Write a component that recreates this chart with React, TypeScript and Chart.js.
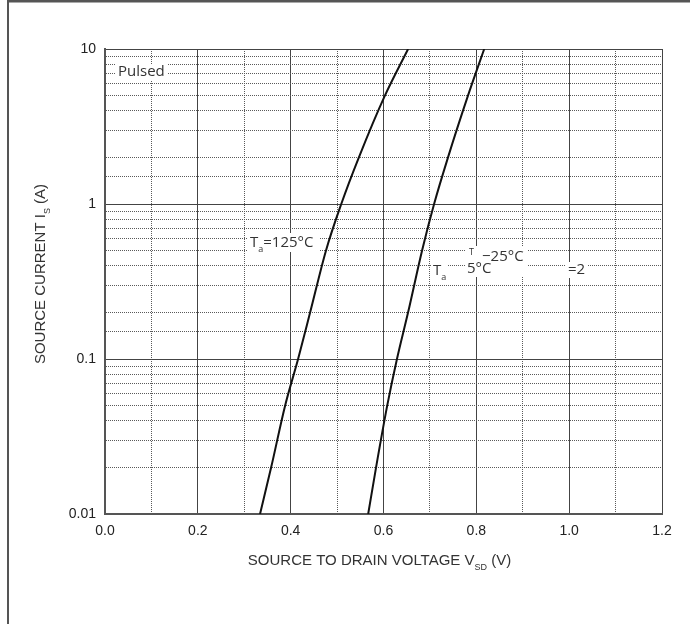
import React, { useEffect, useRef } from 'react';
import { Chart, registerables } from 'chart.js';

Chart.register(...registerables);

// Source current (A) at which the voltages were read
const currentA = [0.01, 0.02, 0.05, 0.1, 0.2, 0.5, 1, 2, 5, 10];
// Source-to-drain voltage (V) for Ta = 125 °C
const vsd125 = [0.334, 0.358, 0.388, 0.416, 0.442, 0.476, 0.509, 0.547, 0.603, 0.653];
// Source-to-drain voltage (V) for Ta = -25 °C
const vsdM25 = [0.567, 0.584, 0.608, 0.629, 0.653, 0.683, 0.709, 0.739, 0.782, 0.817];

const xTickLabels = ['0.0', '0.2', '0.4', '0.6', '0.8', '1.0', '1.2'];
const yTickLabels = ['0.01', '0.1', '1', '10'];

const TICK_FONT = '"Liberation Sans", Arial, sans-serif';
const NOTE_FONT = '"Open Sans", "Noto Sans", sans-serif';

const isDecade = (v: number) => {
  const e = Math.round(Math.log10(v));
  return Math.abs(v / Math.pow(10, e) - 1) < 1e-6;
};
const isEvenTenth = (v: number) => Math.round(v * 10) % 2 === 0;

type Part = { t: string; sub?: boolean; sup?: boolean };

function drawParts(ctx: CanvasRenderingContext2D, parts: Part[], x: number, y: number, size: number, family: string, align: 'left' | 'center') {
  const subSize = Math.round(size * 0.62);
  const widths = parts.map((p) => {
    ctx.font = `${p.sub || p.sup ? subSize : size}px ${family}`;
    return ctx.measureText(p.t).width;
  });
  const total = widths.reduce((a, b) => a + b, 0);
  let cx = align === 'center' ? x - total / 2 : x;
  ctx.textAlign = 'left';
  ctx.textBaseline = 'middle';
  parts.forEach((p, i) => {
    ctx.font = `${p.sub || p.sup ? subSize : size}px ${family}`;
    const dy = p.sub ? size * 0.42 : p.sup ? -size * 0.3 : 0;
    ctx.fillText(p.t, cx, y + dy);
    cx += widths[i];
  });
}

const decorations = {
  id: 'decorations',
  afterDatasetsDraw(chart: any) {
    const ctx: CanvasRenderingContext2D = chart.ctx;
    ctx.save();
    // white label backgrounds
    ctx.fillStyle = '#ffffff';
    ctx.fillRect(115, 64, 53, 17);
    ctx.fillRect(247, 233, 72, 19);
    ctx.fillRect(431, 263, 16, 21);
    ctx.fillRect(465, 246, 62, 31);
    ctx.fillRect(566, 262, 22, 16);

    ctx.fillStyle = '#333333';
    drawParts(ctx, [{ t: 'Pulsed' }], 118, 72, 15, NOTE_FONT, 'left');
    drawParts(ctx, [{ t: 'T' }, { t: 'a', sub: true }, { t: '=125°C' }], 250, 243, 15, NOTE_FONT, 'left');
    drawParts(ctx, [{ t: 'T' }, { t: 'a', sub: true }], 433, 271, 15, NOTE_FONT, 'left');
    drawParts(ctx, [{ t: 'T', sup: true }], 469, 257, 15, NOTE_FONT, 'left');
    drawParts(ctx, [{ t: '−25°C' }], 482, 257, 15, NOTE_FONT, 'left');
    drawParts(ctx, [{ t: '5°C' }], 467, 269, 15, NOTE_FONT, 'left');
    drawParts(ctx, [{ t: '=2' }], 568, 270, 15, NOTE_FONT, 'left');

    // axis titles
    const area = chart.chartArea;
    ctx.fillStyle = '#333333';
    drawParts(ctx, [{ t: 'SOURCE TO DRAIN VOLTAGE V' }, { t: 'SD', sub: true }, { t: ' (V)' }], (area.left + area.right) / 2 - 4, 561, 15, TICK_FONT, 'center');
    ctx.save();
    ctx.translate(41, 274);
    ctx.rotate(-Math.PI / 2);
    drawParts(ctx, [{ t: 'SOURCE CURRENT I' }, { t: 'S', sub: true }, { t: ' (A)' }], 0, 0, 15, TICK_FONT, 'center');
    ctx.restore();

    // page frame
    ctx.fillStyle = '#555555';
    ctx.fillRect(7, 0, 683, 2.5);
    ctx.fillRect(7, 0, 2, 624);
    ctx.restore();
  },
};

export default function App() {
  const ref = useRef<HTMLCanvasElement | null>(null);
  useEffect(() => {
    if (!ref.current) return;
    const chart = new Chart(ref.current, {
      type: 'line',
      data: {
        datasets: [
          {
            label: 'Ta=125°C',
            data: vsd125.map((v, i) => ({ x: v, y: currentA[i] })),
            borderColor: '#111111',
            borderWidth: 2,
            pointRadius: 0,
            cubicInterpolationMode: 'monotone',
            fill: false,
          },
          {
            label: 'Ta=-25°C',
            data: vsdM25.map((v, i) => ({ x: v, y: currentA[i] })),
            borderColor: '#111111',
            borderWidth: 2,
            pointRadius: 0,
            cubicInterpolationMode: 'monotone',
            fill: false,
          },
        ],
      },
      options: {
        animation: false,
        responsive: false,
        devicePixelRatio: 1,
        layout: { padding: { top: 49, right: 28, left: 0, bottom: 0 } },
        plugins: { legend: { display: false }, tooltip: { enabled: false }, title: { display: false } },
        scales: {
          x: {
            type: 'linear',
            min: 0,
            max: 1.2,
            afterFit: (s: any) => {
              s.height = 110;
            },
            ticks: {
              stepSize: 0.1,
              autoSkip: false,
              maxRotation: 0,
              padding: 9,
              color: '#222222',
              font: { family: TICK_FONT, size: 14 },
              callback: (v: any) => (isEvenTenth(Number(v)) ? xTickLabels[Math.round(Number(v) * 5)] : ''),
            },
            grid: {
              drawTicks: false,
              lineWidth: 1,
              color: (c: any) => (c.tick && isEvenTenth(c.tick.value) ? '#444444' : '#5a5a5a'),
            },
            border: {
              display: true,
              color: '#555555',
              width: 2,
              dash: (c: any) => (c.tick && !isEvenTenth(c.tick.value) ? [1, 1] : []),
            },
          },
          y: {
            type: 'logarithmic',
            min: 0.01,
            max: 10,
            afterFit: (s: any) => {
              s.width = 105;
            },
            ticks: {
              autoSkip: false,
              padding: 9,
              color: '#222222',
              font: { family: TICK_FONT, size: 14 },
              callback: (v: any) => {
                const n = Number(v);
                if (!isDecade(n)) return '';
                return yTickLabels[Math.round(Math.log10(n)) + 2];
              },
            },
            grid: {
              drawTicks: false,
              lineWidth: 1,
              color: (c: any) => (c.tick && isDecade(c.tick.value) ? '#444444' : '#5a5a5a'),
            },
            border: {
              display: true,
              color: '#555555',
              width: 2,
              dash: (c: any) => (c.tick && !isDecade(c.tick.value) ? [1, 1] : []),
            },
          },
        },
      },
      plugins: [decorations],
    } as any);
    return () => chart.destroy();
  }, []);
  return (
    <div style={{ position: 'fixed', left: 0, top: 0, width: 690, height: 624, background: '#ffffff' }}>
      <canvas ref={ref} width={690} height={624} style={{ width: 690, height: 624, display: 'block' }} />
    </div>
  );
}
